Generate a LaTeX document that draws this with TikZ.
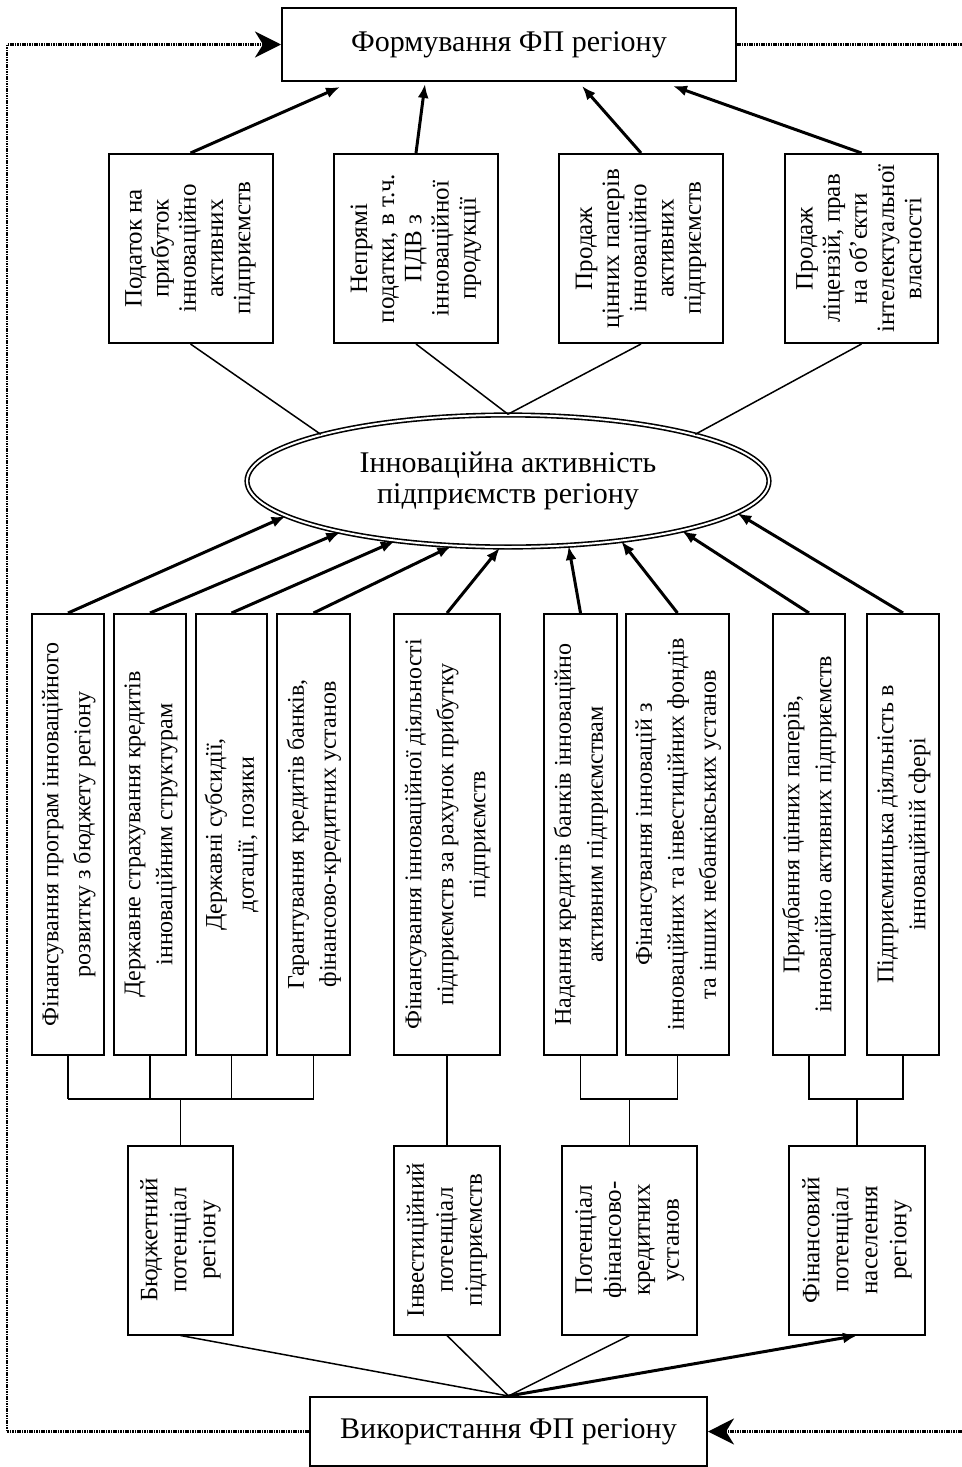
\documentclass[tikz,border=0pt]{standalone}
\usepackage{fontspec}
\setmainfont{Liberation Serif}
\usetikzlibrary{shapes.geometric,arrows.meta}

\newcommand{\vt}[1]{\rotatebox{90}{\begin{tabular}{@{}c@{}}#1\end{tabular}}}

\tikzset{every picture/.style={line width=0.75pt}}
\tikzset{
	hbox/.style={draw,line width=1pt,inner sep=0pt,align=center,font=\fontsize{15}{16}\selectfont},
	tbox/.style={draw,line width=1pt,inner sep=0pt,minimum height=94.5pt,font=\fontsize{12.5}{13.6}\selectfont},
	bbox/.style={draw,line width=1pt,inner sep=0pt,minimum height=220.5pt,font=\fontsize{12}{16}\selectfont},
	pbox/.style={draw,line width=1pt,inner sep=0pt,minimum height=94.5pt,font=\fontsize{12.5}{14.5}\selectfont},
	oval/.style={draw,ellipse,double,line width=0.8pt,double distance=1pt,inner sep=0pt,align=center,font=\fontsize{15}{15.5}\selectfont},
	arr/.style={line width=1.5pt,-{Latex[length=7pt,width=5.5pt]}},
	fb/.style={line width=1.2pt,dash pattern=on 0.8pt off 0.4pt},
	fbarr/.style={fb,-{Stealth[length=13pt,width=13pt,inset=4pt]}}
}

\begin{document}
\begin{tikzpicture}[x=0.5pt,y=-0.5pt]
		%\draw [help lines] (0,0) grid (962,1467);
		\useasboundingbox (0,0) rectangle (962,1467);

		\node[hbox,minimum width=227pt,minimum height=36.5pt] (form) at (509,44.5) {Формування ФП регіону};
		\node[hbox,minimum width=198.5pt,minimum height=34.5pt] (use) at (508.5,1431.5) {Використання ФП регіону};

		% джерела формування
		\node[tbox,minimum width=82pt] (t1) at (190.5,248.5) {\vt{Податок на\\прибуток\\інноваційно\\активних\\підприємств}};
		\node[tbox,minimum width=82pt] (t2) at (416,248.5) {\vt{Непрямі\\податки, в т.ч.\\ПДВ з\\інноваційної\\продукції}};
		\node[tbox,minimum width=82pt] (t3) at (641,248.5) {\vt{Продаж\\цінних паперів\\інноваційно\\активних\\підприємств}};
		\node[tbox,minimum width=76.5pt] (t4) at (861.5,248.5) {\vt{Продаж\\ліцензій, прав\\на об’єкти\\інтелектуальної\\власності}};

		\node[oval,minimum width=261pt,minimum height=66pt] (ell) at (508,481) {Інноваційна активність\\підприємств регіону};

		% напрями використання
		\node[bbox,minimum width=36pt] (b1) at (68,834.5) {\vt{Фінансування програм інноваційного\\розвитку з бюджету регіону}};
		\node[bbox,minimum width=36pt] (b2) at (150,834.5) {\vt{Державне страхування кредитів\\інноваційним структурам}};
		\node[bbox,minimum width=35.5pt] (b3) at (231.5,834.5) {\vt{Державні субсидії,\\дотації, позики}};
		\node[bbox,minimum width=36.5pt] (b4) at (313.5,834.5) {\vt{Гарантування кредитів банків,\\фінансово-кредитних установ}};
		\node[bbox,minimum width=53pt] (b5) at (447,834.5) {\vt{Фінансування інноваційної діяльності\\підприємств за рахунок прибутку\\підприємств}};
		\node[bbox,minimum width=36.5pt] (b6) at (580.5,834.5) {\vt{Надання кредитів банків інноваційно\\активним підприємствам}};
		\node[bbox,minimum width=51.5pt] (b7) at (677.5,834.5) {\vt{Фінансування інновацій з\\інноваційних та інвестиційних фондів\\та інших небанківських установ}};
		\node[bbox,minimum width=36pt] (b8) at (809,834.5) {\vt{Придбання цінних паперів,\\інноваційно активних підприємств}};
		\node[bbox,minimum width=36pt] (b9) at (903,834.5) {\vt{Підприємницька діяльність в\\інноваційній сфері}};

		% потенціали
		\node[pbox,minimum width=52.5pt] (p1) at (180.5,1240) {\vt{Бюджетний\\потенціал\\регіону}};
		\node[pbox,minimum width=53pt] (p2) at (447,1240) {\vt{Інвестиційний\\потенціал\\підприємств}};
		\node[pbox,minimum width=67.5pt] (p3) at (629.5,1240) {\vt{Потенціал\\фінансово-\\кредитних\\установ}};
		\node[pbox,minimum width=68pt] (p4) at (857,1240) {\vt{Фінансовий\\потенціал\\населення\\регіону}};

		\coordinate (f1) at (340,87);
		\coordinate (f2) at (425,84);
		\coordinate (f3) at (582,86);
		\coordinate (f4) at (673,86);
		\foreach \t/\f in {t1/f1,t2/f2,t3/f3,t4/f4}
			\draw[arr] (\t.north) -- (\f);

		\draw (t1.south) -- (ell.166);
		\draw (t2.south) -- (ell.north);
		\draw (t3.south) -- (ell.north);
		\draw (t4.south) -- (ell.14);

		\foreach \b/\a in {b1/189,b2/197.6,b3/208.4,b4/229.8,b5/263.4,b6/313.2,b7/332.4,b8/344.2,b9/352.2}
			\draw[arr] (\b.north) -- (ell.\a);

		% дужки
		\coordinate (j1) at (180.5,1099);
		\coordinate (j3) at (629.5,1099);
		\coordinate (j4) at (857,1099);
		\foreach \b in {b1,b2,b3,b4}
			\draw (\b.south) -- (\b.south |- j1);
		\draw (b1.south |- j1) -- (b4.south |- j1);
		\draw (j1) -- (p1.north);
		\draw (b5.south) -- (p2.north);
		\draw (b6.south) |- (j3) -| (b7.south);
		\draw (j3) -- (p3.north);
		\draw (b8.south) |- (j4) -| (b9.south);
		\draw (j4) -- (p4.north);

		\foreach \p in {p1,p2,p3}
			\draw (\p.south) -- (use.north);
		\draw[arr] (use.north) -- (p4.south);

		% зворотний зв'язок
		\coordinate (lc) at (7,44.5);
		\coordinate (rt) at (962,44.5);
		\coordinate (rb) at (962,1431.5);
		\draw[fbarr] (use.west) -| (lc) -- (form.west);
		\draw[fb] (form.east) -- (rt);
		\draw[fbarr] (rb) -- (use.east);
	\end{tikzpicture}
\end{document}
